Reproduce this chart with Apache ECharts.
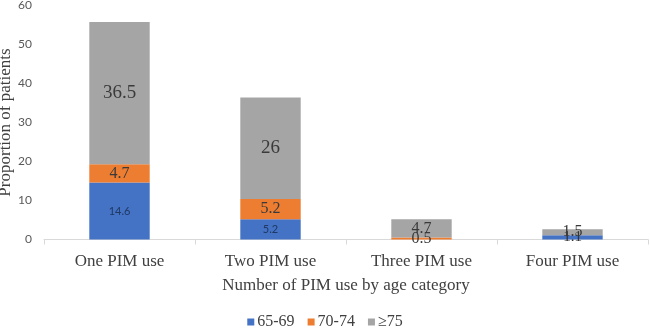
<!DOCTYPE html>
<html><head><meta charset="utf-8">
<script src="https://cdn.jsdelivr.net/npm/echarts@6/dist/echarts.min.js"></script>
<style>html,body{margin:0;padding:0;background:#fff}#c{width:650px;height:330px}</style>
</head><body><div id="c"></div>
<script>
const categories = ['One PIM use', 'Two PIM use', 'Three PIM use', 'Four PIM use'];
const seriesNames = ['65-69', '70-74', '\u226575'];
const age6569 = [14.6, 5.2, 0, 1.1];
const age7074 = [4.7, 5.2, 0.5, 0];
const age75plus = [36.5, 26, 4.7, 1.5];
const yTicks = [0, 10, 20, 30, 40, 50, 60];

const serif = '"Liberation Serif", "DejaVu Serif", serif';
const sans = 'Lato, "Liberation Sans", sans-serif';
const colors = ['#4472C4', '#ED7D31', '#A5A5A5'];

function mk(vals, labelFn) {
  return vals.map((v, i) => ({ value: v, label: labelFn(v, i) }));
}
const blueData = mk(age6569, (v, i) => v === 0 ? { show: false } :
  (i < 2 ? { fontFamily: sans, fontSize: 11, color: '#1f3864' } : { fontFamily: serif, fontSize: 15, color: '#333' }));
const orangeData = mk(age7074, (v) => v === 0 ? { show: false } : { fontFamily: serif, fontSize: 16, color: '#3a3a3a' });
const grayData = mk(age75plus, (v, i) => ({ fontFamily: serif, fontSize: i < 2 ? 19 : 16, color: '#3a3a3a' }));

const chart = echarts.init(document.getElementById('c'));
chart.setOption({
  animation: false,
  color: colors,
  legend: {
    data: seriesNames, top: 309, left: 'center',
    icon: 'rect', itemWidth: 7, itemHeight: 7, itemGap: 13,
    textStyle: { fontFamily: serif, fontSize: 16, color: '#404040', padding: [0, 0, 0, -2] }
  },
  grid: { left: 44, right: 2, top: 5.5, bottom: 90.5, containLabel: false, outerBoundsMode: 'none' },
  xAxis: {
    type: 'category', data: categories,
    name: 'Number of PIM use by age category', nameLocation: 'middle', nameGap: 38,
    nameMoveOverlap: false,
    nameTextStyle: { fontFamily: serif, fontSize: 17, color: '#404040' },
    axisLine: { lineStyle: { color: '#d9d9d9' } },
    axisTick: { show: true, length: 5, lineStyle: { color: '#d9d9d9' } },
    axisLabel: { fontFamily: serif, fontSize: 17, color: '#404040', margin: 14 }
  },
  yAxis: {
    type: 'value', min: yTicks[0], max: yTicks[yTicks.length - 1], interval: 10,
    name: 'Proportion of patients', nameLocation: 'middle', nameGap: 30,
    nameMoveOverlap: false,
    nameTextStyle: { fontFamily: serif, fontSize: 17, color: '#404040' },
    axisLine: { show: false }, axisTick: { show: false },
    splitLine: { show: false },
    axisLabel: { fontFamily: sans, fontSize: 12, color: '#595959', margin: 12 }
  },
  series: [
    { name: seriesNames[0], type: 'bar', stack: 's', barWidth: '40%', data: blueData, label: { show: true, position: 'inside' } },
    { name: seriesNames[1], type: 'bar', stack: 's', data: orangeData, label: { show: true, position: 'inside' } },
    { name: seriesNames[2], type: 'bar', stack: 's', data: grayData, label: { show: true, position: 'inside' } }
  ]
});
</script></body></html>
